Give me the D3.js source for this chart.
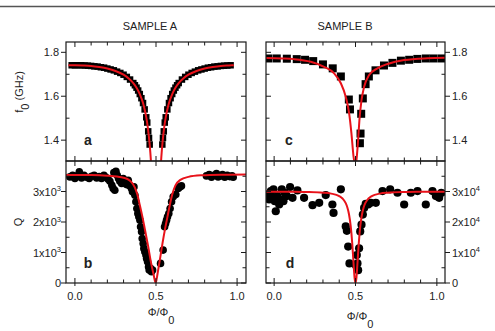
<!DOCTYPE html>
<html><head><meta charset="utf-8">
<script src="https://cdn.jsdelivr.net/npm/d3@7"></script>
<style>
body{margin:0;background:#fff}
text{font-family:"Liberation Sans",Arial,sans-serif;fill:#222}
</style>
</head><body>
<svg id="chart" width="495" height="331"></svg>
<script>
// ---------------- DATA ----------------
const titles = ["SAMPLE A", "SAMPLE B"];
const panelLetters = ["a", "b", "c", "d"];
const phiMajorTicks = [0, 0.5, 1.0];
const phiMinorTicks = [0.1, 0.2, 0.3, 0.4, 0.6, 0.7, 0.8, 0.9];
const phiTickLabels = ["0.0", "0.5", "1.0"];
const fMajorTicks = [1.4, 1.6, 1.8];
const fMinorTicks = [1.5, 1.7];
const fTickLabels = ["1.4", "1.6", "1.8"];
const qAMajorTicks = [0, 1000, 2000, 3000];
const qAMinorTicks = [500, 1500, 2500, 3500];
const qAMantissa = ["0", "1x10", "2x10", "3x10"];
const qAExp = "3";
const qBMajorTicks = [0, 10000, 20000, 30000];
const qBMinorTicks = [5000, 15000, 25000, 35000];
const qBMantissa = ["0", "1x10", "2x10", "3x10"];
const qBExp = "4";

// Panel a: sample A, resonance frequency (GHz)
const aDataPhi = [-0.02,0,0.02,0.04,0.06,0.08,0.10,0.12,0.14,0.16,0.18,0.20,0.22,0.24,0.26,0.28,0.30,0.32,0.34,0.36,
  0.37,0.38,0.39,0.40,0.41,0.42,0.43,0.44,0.446,0.452,0.457,0.461,
  0.539,0.543,0.548,0.554,0.56,0.57,0.58,0.59,0.60,0.61,0.62,0.63,0.64,0.66,0.68,0.70,0.72,0.74,0.76,0.78,0.80,0.82,0.84,0.86,0.88,0.90,0.92,0.94,0.96];
const aDataF = [1.741,1.741,1.741,1.741,1.740,1.739,1.738,1.736,1.735,1.732,1.730,1.726,1.722,1.718,1.712,1.706,1.698,1.688,1.676,1.660,
  1.650,1.639,1.626,1.610,1.591,1.569,1.540,1.504,1.48,1.44,1.41,1.38,
  1.38,1.41,1.44,1.48,1.504,1.540,1.569,1.591,1.610,1.626,1.639,1.650,1.660,1.676,1.688,1.698,1.706,1.712,1.718,1.722,1.726,1.730,1.732,1.735,1.736,1.738,1.739,1.740,1.741];
const aFitPhi = [-0.04,0,0.05,0.1,0.15,0.2,0.25,0.3,0.33,0.36,0.38,0.40,0.42,0.43,0.44,0.45,0.46,0.465,0.47,0.48,
  0.5,
  0.52,0.53,0.535,0.54,0.55,0.56,0.57,0.58,0.60,0.62,0.64,0.67,0.70,0.75,0.8,0.85,0.9,0.95,0.98];
const aFitF = [1.741,1.741,1.740,1.738,1.733,1.726,1.715,1.698,1.682,1.660,1.639,1.610,1.569,1.540,1.504,1.455,1.388,1.344,1.289,1.128,
  null,
  1.128,1.289,1.344,1.388,1.455,1.504,1.540,1.569,1.610,1.639,1.660,1.682,1.698,1.715,1.726,1.733,1.738,1.740,1.741];

// Panel b: sample A, quality factor
const bDataPhi = [-0.031,-0.014,0.000,0.014,0.027,0.041,0.056,0.072,0.088,0.103,0.119,0.134,0.150,0.164,0.179,0.191,0.205,0.216,0.228,0.236,0.246,0.240,0.253,0.261,0.269,0.277,0.288,0.298,0.308,0.318,0.329,0.339,0.349,0.355,0.364,
  0.370,0.376,0.382,0.388,0.394,0.401,0.405,0.411,0.415,0.421,0.425,0.431,0.438,0.442,0.448,0.454,0.458,0.466,0.472,0.479,
  0.528,0.544,0.553,0.559,0.565,0.571,0.579,0.587,0.596,0.606,0.622,0.637,0.647,0.657,
  0.811,0.828,0.842,0.857,0.873,0.883,0.898,0.910,0.924,0.939,0.955,0.969,0.976];
const bDataQ = [3478,3533,3424,3511,3642,3446,3533,3467,3424,3500,3533,3446,3489,3424,3533,3467,3402,3336,3206,3097,3042,3620,3664,3533,3424,3336,3260,3424,3315,3227,3369,3184,3097,2988,3151,
  2879,2660,2442,2279,2170,2061,1843,1679,1461,1297,1134,1025,916,807,698,534,425,479,371,425,
  643,1079,1843,1952,2061,2170,2279,2442,2660,2824,2900,3097,3151,3184,
  3511,3555,3467,3533,3587,3478,3511,3555,3467,3533,3489,3511,3467];
const bFitPhi = [-0.055,0.1,0.2,0.26,0.30,0.33,0.35,0.37,0.385,0.40,0.415,0.43,0.45,0.47,0.485,0.498,0.51,0.525,0.54,0.555,0.57,0.585,0.60,0.62,0.65,0.70,0.78,0.9,1.055];
const bFitQ = [3545,3540,3520,3490,3450,3390,3300,3130,2900,2560,2200,1800,1250,650,280,0,320,800,1300,1750,2150,2550,2900,3200,3380,3480,3530,3550,3555];

// Panel c: sample B, resonance frequency (GHz)
const cDataPhi = [-0.035,0.016,0.078,0.139,0.19,0.24,0.30,0.36,0.41,0.459,0.466,
  0.527,0.531,0.535,0.545,0.562,0.582,0.623,0.675,0.727,0.779,0.83,0.88,0.932,0.98,1.03];
const cDataF = [1.772,1.772,1.771,1.769,1.766,1.760,1.745,1.727,1.690,1.585,1.54,
  1.386,1.43,1.52,1.59,1.655,1.69,1.718,1.74,1.752,1.762,1.766,1.77,1.772,1.772,1.772];
const cFitPhi = [-0.05,0.05,0.123,0.225,0.307,0.369,0.41,0.44,0.461,0.475,0.488,0.5,0.508,0.516,0.524,0.537,0.553,0.584,0.635,0.697,0.799,0.942,1.05];
const cFitF = [1.774,1.772,1.769,1.757,1.734,1.704,1.659,1.598,1.522,1.431,1.325,1.28,1.325,1.40,1.491,1.582,1.643,1.697,1.727,1.747,1.765,1.773,1.775];

// Panel d: sample B, quality factor
const dDataPhi = [-0.041,-0.031,-0.020,-0.010,-0.004,0.004,0.010,0.020,0.031,0.041,0.047,0.057,0.065,0.078,0.098,0.113,0.143,0.184,0.236,0.277,0.317,0.358,0.365,0.410,
  0.440,0.447,0.455,0.463,0.502,0.508,0.512,0.516,0.522,0.529,0.537,0.545,0.553,0.563,0.578,0.594,0.625,
  0.666,0.713,0.758,0.799,0.840,0.881,0.932,0.973,0.994,1.014,1.028];
const dDataQ = [29040,27380,30140,28160,30700,26830,23520,28490,25730,27380,30700,26830,29590,28490,31470,27940,30360,27940,25510,26280,28820,25730,22970,30700,
  18550,17120,11930,6410,5860,9170,6410,4200,11380,16900,19110,22420,24630,25950,25730,26280,26280,
  30140,30700,29590,25730,29590,30140,25730,30140,28490,27940,29590];
const dFitPhi = [-0.05,0.1,0.2,0.3,0.35,0.4,0.42,0.44,0.45,0.46,0.47,0.475,0.48,0.485,0.49,0.495,0.5,0.505,0.51,0.515,0.52,0.525,0.53,0.54,0.55,0.56,0.58,0.6,0.65,0.7,0.8,0.9,1.05];
const dFitQ = [29950,29900,29830,29610,29310,28490,27710,26160,24760,22550,18900,16250,12900,8950,4770,1350,0,1350,4770,8950,12900,16250,18900,22550,24760,26160,27710,28490,29310,29610,29830,29900,29950];

// ---------------- DRAWING ----------------
const svg = d3.select("#chart");
const RED = "#e8121a";
const INK = "#1a1a1a";
const FS = 11;

svg.append("line").attr("x1", 0).attr("x2", 495).attr("y1", 6.5).attr("y2", 6.5)
  .attr("stroke", "#555").attr("stroke-width", 1.3);

const xA = d3.scaleLinear().domain([-0.055, 1.055]).range([66, 246]);
const xB = d3.scaleLinear().domain([-0.05, 1.05]).range([266, 445]);
const yFA = d3.scaleLinear().domain([1.305, 1.847]).range([161, 42]);
const yFB = d3.scaleLinear().domain([1.305, 1.847]).range([161, 42]);
const yQA = d3.scaleLinear().domain([0, 4000]).range([283, 161]);
const yQB = d3.scaleLinear().domain([0, 40000]).range([283, 161]);

let clipId = 0;
function panel(x, y, draw) {
  const [x0, x1] = x.range(), [y1, y0] = y.range();
  const id = "clip" + (clipId++);
  svg.append("clipPath").attr("id", id).append("rect")
    .attr("x", x0).attr("y", y0).attr("width", x1 - x0).attr("height", y1 - y0);
  const g = svg.append("g").attr("clip-path", `url(#${id})`);
  draw(g);
}
function tick(x1, y1, x2, y2) {
  svg.append("line").attr("x1", x1).attr("y1", y1).attr("x2", x2).attr("y2", y2)
    .attr("stroke", INK).attr("stroke-width", 1);
}
function frame(x, y) {
  const [x0, x1] = x.range(), [y1, y0] = y.range();
  svg.append("rect").attr("x", x0).attr("y", y0).attr("width", x1 - x0).attr("height", y1 - y0)
    .attr("fill", "none").attr("stroke", INK).attr("stroke-width", 1.2);
}
function xTicks(x, yPos, dir, majorOut) {
  phiMajorTicks.forEach(v => {
    const px = x(v);
    tick(px, yPos, px, yPos + dir * 5);
    if (majorOut) tick(px, yPos, px, yPos - dir * 3);
  });
  phiMinorTicks.forEach(v => { const px = x(v); tick(px, yPos, px, yPos + dir * 3.5); });
}
function yTicks(y, xPos, dir, majors, minors, out) {
  majors.forEach(v => {
    const py = y(v);
    if (out) tick(xPos, py, xPos - dir * 5, py); else tick(xPos, py, xPos + dir * 5, py);
  });
  minors.forEach(v => { const py = y(v); tick(xPos, py, xPos + dir * 3.5, py); });
}

function squares(g, x, y, px, py, s) {
  g.selectAll(null).data(d3.range(px.length)).join("rect")
    .attr("x", i => x(px[i]) - s / 2).attr("y", i => y(py[i]) - s / 2)
    .attr("width", s).attr("height", s).attr("fill", "#000");
}
function circles(g, x, y, px, py, r) {
  g.selectAll(null).data(d3.range(px.length)).join("circle")
    .attr("cx", i => x(px[i])).attr("cy", i => y(py[i])).attr("r", r).attr("fill", "#000");
}
function fit(g, x, y, px, py) {
  const line = d3.line().defined(i => py[i] !== null)
    .x(i => x(px[i])).y(i => y(py[i])).curve(d3.curveMonotoneX);
  g.append("path").attr("d", line(d3.range(px.length)))
    .attr("fill", "none").attr("stroke", RED).attr("stroke-width", 2);
}

panel(xA, yFA, g => { squares(g, xA, yFA, aDataPhi, aDataF, 6.5); fit(g, xA, yFA, aFitPhi, aFitF); });
panel(xA, yQA, g => { circles(g, xA, yQA, bDataPhi, bDataQ, 3.8); fit(g, xA, yQA, bFitPhi, bFitQ); });
panel(xB, yFB, g => { squares(g, xB, yFB, cDataPhi, cDataF, 8); fit(g, xB, yFB, cFitPhi, cFitF); });
panel(xB, yQB, g => { circles(g, xB, yQB, dDataPhi, dDataQ, 4.1); fit(g, xB, yQB, dFitPhi, dFitQ); });

[[xA, yFA], [xA, yQA], [xB, yFB], [xB, yQB]].forEach(([x, y]) => frame(x, y));

[xA, xB].forEach(x => {
  xTicks(x, 42, 1, false);
  xTicks(x, 161, -1, false);
  xTicks(x, 161, 1, false);
  xTicks(x, 283, -1, true);
});
yTicks(yFA, 66, 1, fMajorTicks, fMinorTicks, true);
yTicks(yFA, 246, -1, fMajorTicks, fMinorTicks, false);
yTicks(yQA, 66, 1, qAMajorTicks, qAMinorTicks, true);
yTicks(yQA, 246, -1, qAMajorTicks, qAMinorTicks, false);
yTicks(yFB, 266, 1, fMajorTicks, fMinorTicks, false);
yTicks(yFB, 445, -1, fMajorTicks, fMinorTicks, true);
yTicks(yQB, 266, 1, qBMajorTicks, qBMinorTicks, false);
yTicks(yQB, 445, -1, qBMajorTicks, qBMinorTicks, true);

function xLabels(x) {
  phiMajorTicks.forEach((v, i) => {
    svg.append("text").attr("x", x(v)).attr("y", 300).attr("text-anchor", "middle")
      .attr("font-size", FS).text(phiTickLabels[i]);
  });
}
xLabels(xA); xLabels(xB);
fMajorTicks.forEach((v, i) => {
  svg.append("text").attr("x", 59).attr("y", yFA(v) + 4).attr("text-anchor", "end").attr("font-size", FS).text(fTickLabels[i]);
  svg.append("text").attr("x", 452).attr("y", yFB(v) + 4).attr("text-anchor", "start").attr("font-size", FS).text(fTickLabels[i]);
});
function qLabel(xp, yp, anchor, mant, exp) {
  const t = svg.append("text").attr("x", xp).attr("y", yp).attr("text-anchor", anchor).attr("font-size", FS);
  t.append("tspan").text(mant);
  if (mant !== "0") t.append("tspan").attr("dy", -4.5).attr("font-size", 7.5).text(exp);
}
qAMajorTicks.forEach((v, i) => qLabel(61, yQA(v) + 4, "end", qAMantissa[i], qAExp));
qBMajorTicks.forEach((v, i) => qLabel(452, yQB(v) + 4, "start", qBMantissa[i], qBExp));

svg.append("text").attr("x", 150).attr("y", 30).attr("text-anchor", "middle").attr("font-size", FS).text(titles[0]);
svg.append("text").attr("x", 345).attr("y", 30).attr("text-anchor", "middle").attr("font-size", FS).text(titles[1]);

[[88, 145], [88, 268], [289, 145], [290, 268]].forEach((p, i) => {
  svg.append("text").attr("x", p[0]).attr("y", p[1]).attr("text-anchor", "middle")
    .attr("font-size", 14).attr("font-weight", "bold").text(panelLetters[i]);
});

const fl = svg.append("text").attr("transform", "translate(23,92) rotate(-90)")
  .attr("text-anchor", "middle").attr("font-size", FS);
fl.append("tspan").text("f");
fl.append("tspan").attr("dy", 6).text("0");
fl.append("tspan").attr("dy", -6).text(" (GHz)");
svg.append("text").attr("transform", "translate(22,222) rotate(-90)")
  .attr("text-anchor", "middle").attr("font-size", FS).text("Q");

function phiLabel(xc, yb) {
  const t = svg.append("text").attr("x", xc).attr("y", yb).attr("text-anchor", "middle").attr("font-size", FS);
  t.append("tspan").text("Φ/Φ");
  t.append("tspan").attr("dy", 8).text("0");
}
phiLabel(161, 316);
phiLabel(360, 320);
</script>
</body></html>
